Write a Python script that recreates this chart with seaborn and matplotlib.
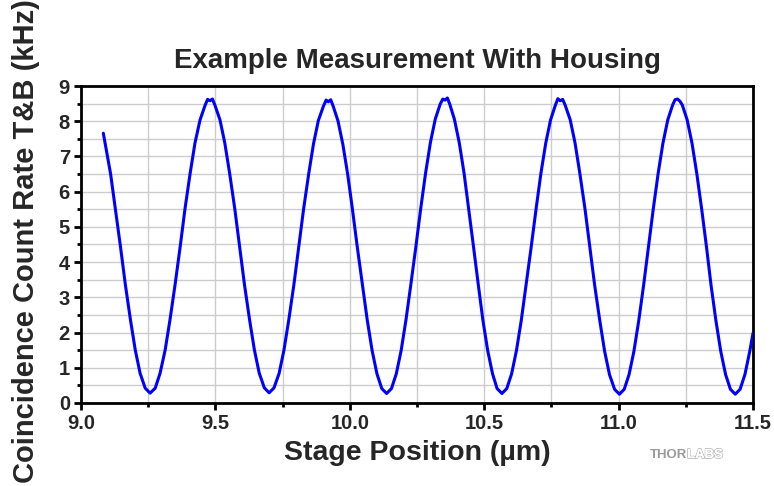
import matplotlib
matplotlib.use("Agg")
import matplotlib.pyplot as plt
import matplotlib.patheffects as pe
from matplotlib.ticker import MultipleLocator
import pandas as pd
import seaborn as sns

# Stage position (µm) and coincidence count rate (kHz)
stage_position = [
    9.083, 9.110, 9.128, 9.147, 9.165, 9.184, 9.202, 9.220, 9.239, 9.257,
    9.276, 9.294, 9.313, 9.331, 9.350, 9.369, 9.387, 9.406, 9.424, 9.443, 9.462, 9.471, 9.480, 9.489,
    9.498, 9.517, 9.535, 9.553, 9.572, 9.590, 9.608, 9.627, 9.645, 9.663, 9.682, 9.700,
    9.718, 9.737, 9.755, 9.773, 9.792, 9.810, 9.828, 9.847, 9.865, 9.883, 9.902, 9.912, 9.920, 9.929,
    9.938, 9.956, 9.974, 9.992, 10.010, 10.028, 10.047, 10.065, 10.083, 10.101, 10.119, 10.137,
    10.155, 10.173, 10.191, 10.209, 10.227, 10.246, 10.264, 10.282, 10.300, 10.318, 10.336, 10.346, 10.354, 10.363,
    10.372, 10.389, 10.407, 10.425, 10.442, 10.460, 10.478, 10.495, 10.513, 10.531, 10.548, 10.566,
    10.584, 10.602, 10.620, 10.638, 10.656, 10.675, 10.693, 10.711, 10.729, 10.747, 10.765, 10.774, 10.783, 10.792,
    10.801, 10.820, 10.838, 10.856, 10.875, 10.893, 10.911, 10.930, 10.948, 10.966, 10.985, 11.003,
    11.021, 11.039, 11.057, 11.075, 11.093, 11.111, 11.129, 11.147, 11.165, 11.183, 11.201, 11.210, 11.219, 11.228,
    11.237, 11.255, 11.273, 11.291, 11.309, 11.327, 11.344, 11.362, 11.380, 11.398, 11.416, 11.434,
    11.452, 11.470, 11.488, 11.500,
]
count_rate = [
    7.66, 6.51, 5.50, 4.43, 3.36, 2.36, 1.50, 0.84, 0.42, 0.28,
    0.42, 0.84, 1.50, 2.36, 3.36, 4.44, 5.52, 6.52, 7.38, 8.04, 8.46, 8.62, 8.58, 8.63,
    8.46, 8.04, 7.38, 6.52, 5.52, 4.45, 3.37, 2.37, 1.51, 0.85, 0.43, 0.29,
    0.43, 0.84, 1.50, 2.36, 3.36, 4.43, 5.50, 6.50, 7.36, 8.02, 8.43, 8.60, 8.55, 8.61,
    8.43, 8.01, 7.35, 6.50, 5.49, 4.42, 3.35, 2.35, 1.49, 0.83, 0.41, 0.27,
    0.41, 0.83, 1.49, 2.36, 3.36, 4.45, 5.53, 6.53, 7.40, 8.06, 8.48, 8.63, 8.60, 8.66,
    8.48, 8.06, 7.40, 6.53, 5.53, 4.45, 3.36, 2.36, 1.49, 0.83, 0.41, 0.27,
    0.41, 0.83, 1.49, 2.35, 3.36, 4.44, 5.51, 6.52, 7.38, 8.04, 8.46, 8.64, 8.58, 8.62,
    8.46, 8.04, 7.38, 6.51, 5.51, 4.43, 3.34, 2.34, 1.47, 0.81, 0.39, 0.25,
    0.39, 0.81, 1.47, 2.34, 3.34, 4.43, 5.51, 6.51, 7.38, 8.04, 8.46, 8.61, 8.63, 8.57,
    8.46, 8.04, 7.38, 6.51, 5.51, 4.43, 3.34, 2.34, 1.47, 0.81, 0.39, 0.25,
    0.39, 0.81, 1.47, 1.98,
]

x_ticks = [9.0, 9.5, 10.0, 10.5, 11.0, 11.5]
x_tick_labels = ["9.0", "9.5", "10.0", "10.5", "11.0", "11.5"]
y_ticks = [0, 1, 2, 3, 4, 5, 6, 7, 8, 9]

df = pd.DataFrame({"position": stage_position, "rate": count_rate})

sns.set_theme(style="white")
plt.rcParams["font.family"] = ["Liberation Sans", "DejaVu Sans"]
plt.rcParams["font.weight"] = "bold"

fig = plt.figure(figsize=(7.74, 4.86), dpi=100)
ax = fig.add_axes([81 / 774, 1 - 403 / 486, 672 / 774, 317 / 486])

sns.lineplot(data=df, x="position", y="rate", sort=False, estimator=None,
             color="#0000ff", linewidth=2.2, ax=ax, zorder=3)

ax.set_xlim(9.0, 11.5)
ax.set_ylim(0, 9)
ax.set_xticks(x_ticks)
ax.set_xticklabels(x_tick_labels)
ax.set_yticks(y_ticks)
ax.xaxis.set_minor_locator(MultipleLocator(0.25))
ax.yaxis.set_minor_locator(MultipleLocator(0.5))

ax.grid(True, which="both", color="#cccccc", linewidth=1.0, zorder=0)
ax.set_axisbelow(True)

for side in ["left", "right", "top", "bottom"]:
    ax.spines[side].set_visible(True)
    ax.spines[side].set_color("black")
    ax.spines[side].set_linewidth(2.0)

ax.tick_params(axis="both", which="major", direction="out", length=5, width=2,
               color="black", labelsize=14.5, pad=3,
               bottom=True, left=True, top=False, right=False)
ax.tick_params(axis="both", which="minor", direction="out", length=3, width=2,
               color="black", bottom=True, left=True, top=False, right=False)
for lab in ax.get_xticklabels() + ax.get_yticklabels():
    lab.set_fontweight("bold")

ax.set_title("Example Measurement With Housing", fontsize=20, fontweight="bold", pad=13)
ax.set_xlabel("Stage Position (µm)", fontsize=20.5, fontweight="bold")
ax.set_ylabel("Coincidence Count Rate T&B (kHz)", fontsize=21, fontweight="bold")
ax.xaxis.set_label_coords(0.5, -0.118)
ax.yaxis.set_label_coords(-0.061, 0.51)

# Brand mark in the lower right corner
fig.text(687 / 774, 1 - 455 / 486, "THOR", ha="right", va="center",
         fontsize=9.5, fontweight="bold", color="#9a9a9a")
fig.text(687 / 774, 1 - 455 / 486, "LABS", ha="left", va="center",
         fontsize=9.5, fontweight="bold", color="white",
         path_effects=[pe.withStroke(linewidth=1.0, foreground="#aaaaaa"), pe.Normal()])

fig.savefig("out.png", dpi=100, facecolor="white")
